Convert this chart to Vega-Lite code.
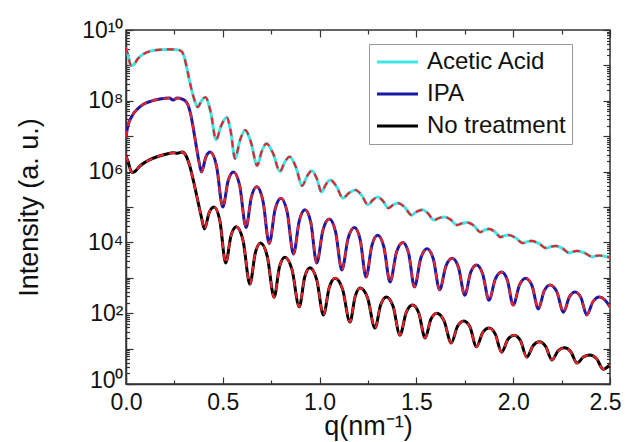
{
  "$schema": "https://vega.github.io/schema/vega-lite/v6.json",
  "width": 484,
  "height": 354,
  "autosize": "none",
  "padding": {"left": 126, "top": 30, "right": 15, "bottom": 58},
  "background": "white",
  "config": {
    "view": {"stroke": "#333", "strokeWidth": 1.5},
    "font": "Liberation Sans",
    "axis": {"grid": false, "domainColor": "#333", "domainWidth": 1.5, "tickColor": "#333", "tickWidth": 1.2, "labelColor": "#111", "titleColor": "#111", "labelFont": "Liberation Sans", "titleFont": "Liberation Sans", "labelFontSize": 23, "titleFontSize": 27, "titleFontWeight": "normal"}
  },
  "data": {"values": [
    {"s":"Acetic Acid","q":0.000,"I":3.16e9},{"s":"Acetic Acid","q":0.010,"I":2.0e9},{"s":"Acetic Acid","q":0.025,"I":1.0e9},{"s":"Acetic Acid","q":0.040,"I":1.05e9},{"s":"Acetic Acid","q":0.060,"I":1.51e9},{"s":"Acetic Acid","q":0.090,"I":2.09e9},{"s":"Acetic Acid","q":0.130,"I":2.57e9},{"s":"Acetic Acid","q":0.170,"I":2.75e9},{"s":"Acetic Acid","q":0.210,"I":2.82e9},{"s":"Acetic Acid","q":0.250,"I":2.82e9},{"s":"Acetic Acid","q":0.275,"I":2.69e9},{"s":"Acetic Acid","q":0.290,"I":2.4e9},{"s":"Acetic Acid","q":0.300,"I":1.78e9},{"s":"Acetic Acid","q":0.315,"I":7.94e8},{"s":"Acetic Acid","q":0.335,"I":2.51e8},{"s":"Acetic Acid","q":0.355,"I":1.0e8},{"s":"Acetic Acid","q":0.370,"I":6.61e7},{"s":"Acetic Acid","q":0.390,"I":1.0e8},{"s":"Acetic Acid","q":0.410,"I":1.26e8},{"s":"Acetic Acid","q":0.4375,"I":4.79e7},{"s":"Acetic Acid","q":0.465,"I":7.94e6},{"s":"Acetic Acid","q":0.4925,"I":2.04e7},{"s":"Acetic Acid","q":0.520,"I":3.39e7},{"s":"Acetic Acid","q":0.5415,"I":1.32e7},{"s":"Acetic Acid","q":0.563,"I":2.34e6},{"s":"Acetic Acid","q":0.589,"I":7.76e6},{"s":"Acetic Acid","q":0.615,"I":1.48e7},{"s":"Acetic Acid","q":0.646,"I":6.61e6},{"s":"Acetic Acid","q":0.677,"I":1.48e6},{"s":"Acetic Acid","q":0.701,"I":3.72e6},{"s":"Acetic Acid","q":0.725,"I":6.17e6},{"s":"Acetic Acid","q":0.760,"I":3.24e6},{"s":"Acetic Acid","q":0.795,"I":1.0e6},{"s":"Acetic Acid","q":0.820,"I":1.86e6},{"s":"Acetic Acid","q":0.845,"I":2.63e6},{"s":"Acetic Acid","q":0.8775,"I":1.35e6},{"s":"Acetic Acid","q":0.910,"I":3.98e5},{"s":"Acetic Acid","q":0.935,"I":7.41e5},{"s":"Acetic Acid","q":0.960,"I":1.05e6},{"s":"Acetic Acid","q":0.985,"I":6.46e5},{"s":"Acetic Acid","q":1.010,"I":2.63e5},{"s":"Acetic Acid","q":1.0325,"I":4.37e5},{"s":"Acetic Acid","q":1.055,"I":5.75e5},{"s":"Acetic Acid","q":1.0875,"I":3.8e5},{"s":"Acetic Acid","q":1.120,"I":1.78e5},{"s":"Acetic Acid","q":1.1525,"I":2.51e5},{"s":"Acetic Acid","q":1.185,"I":3.02e5},{"s":"Acetic Acid","q":1.2175,"I":2.14e5},{"s":"Acetic Acid","q":1.250,"I":1.15e5},{"s":"Acetic Acid","q":1.275,"I":1.58e5},{"s":"Acetic Acid","q":1.300,"I":1.91e5},{"s":"Acetic Acid","q":1.3275,"I":1.48e5},{"s":"Acetic Acid","q":1.355,"I":9.33e4},{"s":"Acetic Acid","q":1.380,"I":1.15e5},{"s":"Acetic Acid","q":1.405,"I":1.29e5},{"s":"Acetic Acid","q":1.440,"I":9.77e4},{"s":"Acetic Acid","q":1.475,"I":5.89e4},{"s":"Acetic Acid","q":1.5025,"I":7.41e4},{"s":"Acetic Acid","q":1.530,"I":8.32e4},{"s":"Acetic Acid","q":1.560,"I":6.61e4},{"s":"Acetic Acid","q":1.590,"I":4.27e4},{"s":"Acetic Acid","q":1.6175,"I":4.9e4},{"s":"Acetic Acid","q":1.645,"I":5.25e4},{"s":"Acetic Acid","q":1.6775,"I":4.37e4},{"s":"Acetic Acid","q":1.710,"I":3.09e4},{"s":"Acetic Acid","q":1.7375,"I":3.47e4},{"s":"Acetic Acid","q":1.765,"I":3.63e4},{"s":"Acetic Acid","q":1.7975,"I":2.95e4},{"s":"Acetic Acid","q":1.830,"I":1.95e4},{"s":"Acetic Acid","q":1.8525,"I":2.24e4},{"s":"Acetic Acid","q":1.875,"I":2.4e4},{"s":"Acetic Acid","q":1.905,"I":2.0e4},{"s":"Acetic Acid","q":1.935,"I":1.41e4},{"s":"Acetic Acid","q":1.955,"I":1.55e4},{"s":"Acetic Acid","q":1.975,"I":1.62e4},{"s":"Acetic Acid","q":2.0125,"I":1.35e4},{"s":"Acetic Acid","q":2.050,"I":9.55e3},{"s":"Acetic Acid","q":2.0725,"I":1.05e4},{"s":"Acetic Acid","q":2.095,"I":1.1e4},{"s":"Acetic Acid","q":2.1325,"I":9.33e3},{"s":"Acetic Acid","q":2.170,"I":6.92e3},{"s":"Acetic Acid","q":2.195,"I":7.59e3},{"s":"Acetic Acid","q":2.220,"I":7.94e3},{"s":"Acetic Acid","q":2.255,"I":6.76e3},{"s":"Acetic Acid","q":2.290,"I":5.01e3},{"s":"Acetic Acid","q":2.310,"I":5.5e3},{"s":"Acetic Acid","q":2.330,"I":5.75e3},{"s":"Acetic Acid","q":2.370,"I":5.01e3},{"s":"Acetic Acid","q":2.410,"I":3.89e3},{"s":"Acetic Acid","q":2.4275,"I":4.17e3},{"s":"Acetic Acid","q":2.445,"I":4.27e3},{"s":"Acetic Acid","q":2.4725,"I":4.07e3},{"s":"Acetic Acid","q":2.500,"I":3.72e3},
    {"s":"IPA","q":0.000,"I":8.91e6},{"s":"IPA","q":0.008,"I":1.78e7},{"s":"IPA","q":0.020,"I":2.82e7},{"s":"IPA","q":0.040,"I":4.47e7},{"s":"IPA","q":0.060,"I":5.89e7},{"s":"IPA","q":0.090,"I":7.94e7},{"s":"IPA","q":0.130,"I":9.77e7},{"s":"IPA","q":0.175,"I":1.12e8},{"s":"IPA","q":0.225,"I":1.2e8},{"s":"IPA","q":0.243,"I":1.05e8},{"s":"IPA","q":0.265,"I":1.2e8},{"s":"IPA","q":0.290,"I":1.12e8},{"s":"IPA","q":0.315,"I":8.71e7},{"s":"IPA","q":0.335,"I":3.98e7},{"s":"IPA","q":0.350,"I":1.41e7},{"s":"IPA","q":0.365,"I":4.47e6},{"s":"IPA","q":0.378,"I":1.78e6},{"s":"IPA","q":0.390,"I":9.77e5},{"s":"IPA","q":0.4125,"I":2.57e6},{"s":"IPA","q":0.435,"I":3.55e6},{"s":"IPA","q":0.4675,"I":1.45e6},{"s":"IPA","q":0.500,"I":1.0e5},{"s":"IPA","q":0.5275,"I":5.5e5},{"s":"IPA","q":0.555,"I":9.77e5},{"s":"IPA","q":0.5875,"I":3.98e5},{"s":"IPA","q":0.620,"I":2.63e4},{"s":"IPA","q":0.6475,"I":1.91e5},{"s":"IPA","q":0.675,"I":3.72e5},{"s":"IPA","q":0.7075,"I":1.48e5},{"s":"IPA","q":0.740,"I":9.33e3},{"s":"IPA","q":0.770,"I":8.51e4},{"s":"IPA","q":0.800,"I":1.78e5},{"s":"IPA","q":0.8325,"I":7.24e4},{"s":"IPA","q":0.865,"I":4.68e3},{"s":"IPA","q":0.895,"I":4.07e4},{"s":"IPA","q":0.925,"I":8.32e4},{"s":"IPA","q":0.955,"I":3.55e4},{"s":"IPA","q":0.985,"I":2.63e3},{"s":"IPA","q":1.0175,"I":2.24e4},{"s":"IPA","q":1.050,"I":4.57e4},{"s":"IPA","q":1.0825,"I":2.0e4},{"s":"IPA","q":1.115,"I":1.66e3},{"s":"IPA","q":1.1475,"I":1.32e4},{"s":"IPA","q":1.180,"I":2.63e4},{"s":"IPA","q":1.210,"I":1.17e4},{"s":"IPA","q":1.240,"I":1.05e3},{"s":"IPA","q":1.270,"I":8.13e3},{"s":"IPA","q":1.300,"I":1.58e4},{"s":"IPA","q":1.332,"I":7.41e3},{"s":"IPA","q":1.364,"I":759},{"s":"IPA","q":1.397,"I":5.25e3},{"s":"IPA","q":1.430,"I":1.0e4},{"s":"IPA","q":1.460,"I":4.9e3},{"s":"IPA","q":1.490,"I":550},{"s":"IPA","q":1.5225,"I":3.55e3},{"s":"IPA","q":1.555,"I":6.61e3},{"s":"IPA","q":1.5875,"I":3.39e3},{"s":"IPA","q":1.620,"I":457},{"s":"IPA","q":1.6525,"I":2.14e3},{"s":"IPA","q":1.685,"I":3.55e3},{"s":"IPA","q":1.7175,"I":1.95e3},{"s":"IPA","q":1.750,"I":324},{"s":"IPA","q":1.780,"I":1.41e3},{"s":"IPA","q":1.810,"I":2.29e3},{"s":"IPA","q":1.8425,"I":1.29e3},{"s":"IPA","q":1.875,"I":234},{"s":"IPA","q":1.9075,"I":912},{"s":"IPA","q":1.940,"I":1.45e3},{"s":"IPA","q":1.970,"I":851},{"s":"IPA","q":2.000,"I":170},{"s":"IPA","q":2.0325,"I":631},{"s":"IPA","q":2.065,"I":977},{"s":"IPA","q":2.0975,"I":589},{"s":"IPA","q":2.130,"I":132},{"s":"IPA","q":2.160,"I":427},{"s":"IPA","q":2.190,"I":631},{"s":"IPA","q":2.225,"I":407},{"s":"IPA","q":2.260,"I":107},{"s":"IPA","q":2.290,"I":288},{"s":"IPA","q":2.320,"I":398},{"s":"IPA","q":2.350,"I":275},{"s":"IPA","q":2.380,"I":89},{"s":"IPA","q":2.4125,"I":214},{"s":"IPA","q":2.445,"I":288},{"s":"IPA","q":2.4725,"I":240},{"s":"IPA","q":2.500,"I":151},
    {"s":"No treatment","q":0.000,"I":2.82e6},{"s":"No treatment","q":0.012,"I":1.78e6},{"s":"No treatment","q":0.030,"I":9.55e5},{"s":"No treatment","q":0.045,"I":1.0e6},{"s":"No treatment","q":0.070,"I":1.41e6},{"s":"No treatment","q":0.110,"I":2.0e6},{"s":"No treatment","q":0.160,"I":2.63e6},{"s":"No treatment","q":0.210,"I":3.16e6},{"s":"No treatment","q":0.245,"I":3.39e6},{"s":"No treatment","q":0.265,"I":3.31e6},{"s":"No treatment","q":0.290,"I":3.55e6},{"s":"No treatment","q":0.310,"I":2.82e6},{"s":"No treatment","q":0.330,"I":1.41e6},{"s":"No treatment","q":0.350,"I":5.01e5},{"s":"No treatment","q":0.370,"I":1.58e5},{"s":"No treatment","q":0.390,"I":5.01e4},{"s":"No treatment","q":0.405,"I":2.4e4},{"s":"No treatment","q":0.430,"I":7.08e4},{"s":"No treatment","q":0.455,"I":1.0e5},{"s":"No treatment","q":0.485,"I":4.07e4},{"s":"No treatment","q":0.515,"I":2.63e3},{"s":"No treatment","q":0.5425,"I":1.55e4},{"s":"No treatment","q":0.570,"I":2.75e4},{"s":"No treatment","q":0.605,"I":1.1e4},{"s":"No treatment","q":0.640,"I":661},{"s":"No treatment","q":0.6675,"I":4.9e3},{"s":"No treatment","q":0.695,"I":9.55e3},{"s":"No treatment","q":0.730,"I":3.98e3},{"s":"No treatment","q":0.765,"I":282},{"s":"No treatment","q":0.7925,"I":2.0e3},{"s":"No treatment","q":0.820,"I":3.8e3},{"s":"No treatment","q":0.8575,"I":1.7e3},{"s":"No treatment","q":0.895,"I":151},{"s":"No treatment","q":0.9225,"I":1.02e3},{"s":"No treatment","q":0.950,"I":1.91e3},{"s":"No treatment","q":0.985,"I":891},{"s":"No treatment","q":1.020,"I":89.1},{"s":"No treatment","q":1.050,"I":537},{"s":"No treatment","q":1.080,"I":977},{"s":"No treatment","q":1.1185,"I":479},{"s":"No treatment","q":1.157,"I":56.2},{"s":"No treatment","q":1.1835,"I":295},{"s":"No treatment","q":1.210,"I":513},{"s":"No treatment","q":1.248,"I":269},{"s":"No treatment","q":1.286,"I":38},{"s":"No treatment","q":1.3155,"I":174},{"s":"No treatment","q":1.345,"I":288},{"s":"No treatment","q":1.380,"I":155},{"s":"No treatment","q":1.415,"I":24},{"s":"No treatment","q":1.4475,"I":105},{"s":"No treatment","q":1.480,"I":170},{"s":"No treatment","q":1.5125,"I":100},{"s":"No treatment","q":1.545,"I":20},{"s":"No treatment","q":1.575,"I":67.6},{"s":"No treatment","q":1.605,"I":100},{"s":"No treatment","q":1.6425,"I":61.7},{"s":"No treatment","q":1.680,"I":14.5},{"s":"No treatment","q":1.7125,"I":42.7},{"s":"No treatment","q":1.745,"I":60.3},{"s":"No treatment","q":1.7775,"I":39.8},{"s":"No treatment","q":1.810,"I":11.2},{"s":"No treatment","q":1.8425,"I":28.2},{"s":"No treatment","q":1.875,"I":38},{"s":"No treatment","q":1.9075,"I":25.7},{"s":"No treatment","q":1.940,"I":7.94},{"s":"No treatment","q":1.9725,"I":18.2},{"s":"No treatment","q":2.005,"I":24},{"s":"No treatment","q":2.0375,"I":17},{"s":"No treatment","q":2.070,"I":5.75},{"s":"No treatment","q":2.1025,"I":12},{"s":"No treatment","q":2.135,"I":15.5},{"s":"No treatment","q":2.1675,"I":11.5},{"s":"No treatment","q":2.200,"I":4.79},{"s":"No treatment","q":2.2325,"I":8.71},{"s":"No treatment","q":2.265,"I":10.5},{"s":"No treatment","q":2.2975,"I":8.13},{"s":"No treatment","q":2.330,"I":3.89},{"s":"No treatment","q":2.3625,"I":5.75},{"s":"No treatment","q":2.395,"I":6.61},{"s":"No treatment","q":2.430,"I":5.25},{"s":"No treatment","q":2.465,"I":2.63},{"s":"No treatment","q":2.500,"I":3.55}
  ]},
  "layer": [
    {
      "mark": {"type": "line", "strokeWidth": 3, "interpolate": "monotone", "clip": true},
      "encoding": {
        "x": {"field": "q", "type": "quantitative", "scale": {"domain": [0, 2.5], "nice": false},
          "axis": {"orient": "bottom", "values": [0, 0.25, 0.5, 0.75, 1, 1.25, 1.5, 1.75, 2, 2.25, 2.5], "labelExpr": "datum.value % 0.5 == 0 ? format(datum.value, '.1f') : ''", "labelOverlap": false, "labelFlush": false, "labelBound": false,
            "labelOffset": {"condition": {"test": "datum.value == 2.5", "value": -5}, "value": 0},
            "tickSize": {"condition": {"test": "datum.value % 0.5 == 0", "value": -7}, "value": -4}, "labelPadding": 14, "title": "q(nm⁻¹)", "titleY": 50, "titleBaseline": "alphabetic"}},
        "y": {"field": "I", "type": "quantitative", "scale": {"type": "log", "domain": [1, 10000000000], "nice": false},
          "axis": {"orient": "left", "values": [1,2,3,4,5,6,7,8,9,10,20,30,40,50,60,70,80,90,100,200,300,400,500,600,700,800,900,1000,2000,3000,4000,5000,6000,7000,8000,9000,10000,20000,30000,40000,50000,60000,70000,80000,90000,100000,200000,300000,400000,500000,600000,700000,800000,900000,1000000,2000000,3000000,4000000,5000000,6000000,7000000,8000000,9000000,10000000,20000000,30000000,40000000,50000000,60000000,70000000,80000000,90000000,100000000,200000000,300000000,400000000,500000000,600000000,700000000,800000000,900000000,1000000000,2000000000,3000000000,4000000000,5000000000,6000000000,7000000000,8000000000,9000000000,10000000000],
            "labelExpr": "datum.value == 1 ? '10⁰' : datum.value == 100 ? '10²' : datum.value == 10000 ? '10⁴' : datum.value == 1000000 ? '10⁶' : datum.value == 100000000 ? '10⁸' : datum.value == 10000000000 ? '10¹⁰' : ''",
            "labelOverlap": false, "labelFlush": false, "labelBound": false,
            "labelOffset": {"condition": {"test": "datum.value == 1", "value": -4}, "value": 0},
            "tickSize": {"condition": {"test": "abs(log(datum.value)/LN10 - round(log(datum.value)/LN10)) < 0.000001", "value": -7}, "value": -3.5},
            "labelPadding": 10, "title": "Intensity (a. u.)", "titleX": -89, "titleY": 177, "titleAngle": -90, "titleBaseline": "alphabetic", "titleAlign": "center"}},
        "color": {"field": "s", "type": "nominal", "scale": {"domain": ["Acetic Acid", "IPA", "No treatment"], "range": ["#3fe6e6", "#1818a6", "#000000"]},
          "legend": {"title": null, "orient": "none", "legendX": 243, "legendY": 14, "symbolType": "M-1,0H3.1", "symbolSize": 400, "symbolStrokeWidth": 3, "labelFontSize": 24, "labelFont": "Liberation Sans", "labelColor": "#111", "rowPadding": 8, "padding": 6, "strokeColor": "#999", "fillColor": "white", "labelOffset": 28}}
      }
    },
    {
      "mark": {"type": "line", "strokeWidth": 2.2, "color": "#e4262c", "strokeDash": [7, 5], "interpolate": "monotone", "clip": true},
      "encoding": {
        "x": {"field": "q", "type": "quantitative", "axis": {"orient": "top", "values": [0, 0.25, 0.5, 0.75, 1, 1.25, 1.5, 1.75, 2, 2.25, 2.5], "labels": false, "title": null, "domain": false, "tickSize": {"condition": {"test": "datum.value % 0.5 == 0", "value": -7}, "value": -4}}},
        "y": {"field": "I", "type": "quantitative", "axis": {"orient": "right", "values": [1,2,3,4,5,6,7,8,9,10,20,30,40,50,60,70,80,90,100,200,300,400,500,600,700,800,900,1000,2000,3000,4000,5000,6000,7000,8000,9000,10000,20000,30000,40000,50000,60000,70000,80000,90000,100000,200000,300000,400000,500000,600000,700000,800000,900000,1000000,2000000,3000000,4000000,5000000,6000000,7000000,8000000,9000000,10000000,20000000,30000000,40000000,50000000,60000000,70000000,80000000,90000000,100000000,200000000,300000000,400000000,500000000,600000000,700000000,800000000,900000000,1000000000,2000000000,3000000000,4000000000,5000000000,6000000000,7000000000,8000000000,9000000000,10000000000], "labels": false, "title": null, "domain": false,
          "tickSize": {"condition": {"test": "abs(log(datum.value)/LN10 - round(log(datum.value)/LN10)) < 0.000001", "value": -7}, "value": -3.5}}},
        "detail": {"field": "s", "type": "nominal"}
      }
    }
  ],
  "resolve": {"axis": {"x": "independent", "y": "independent"}}
}
